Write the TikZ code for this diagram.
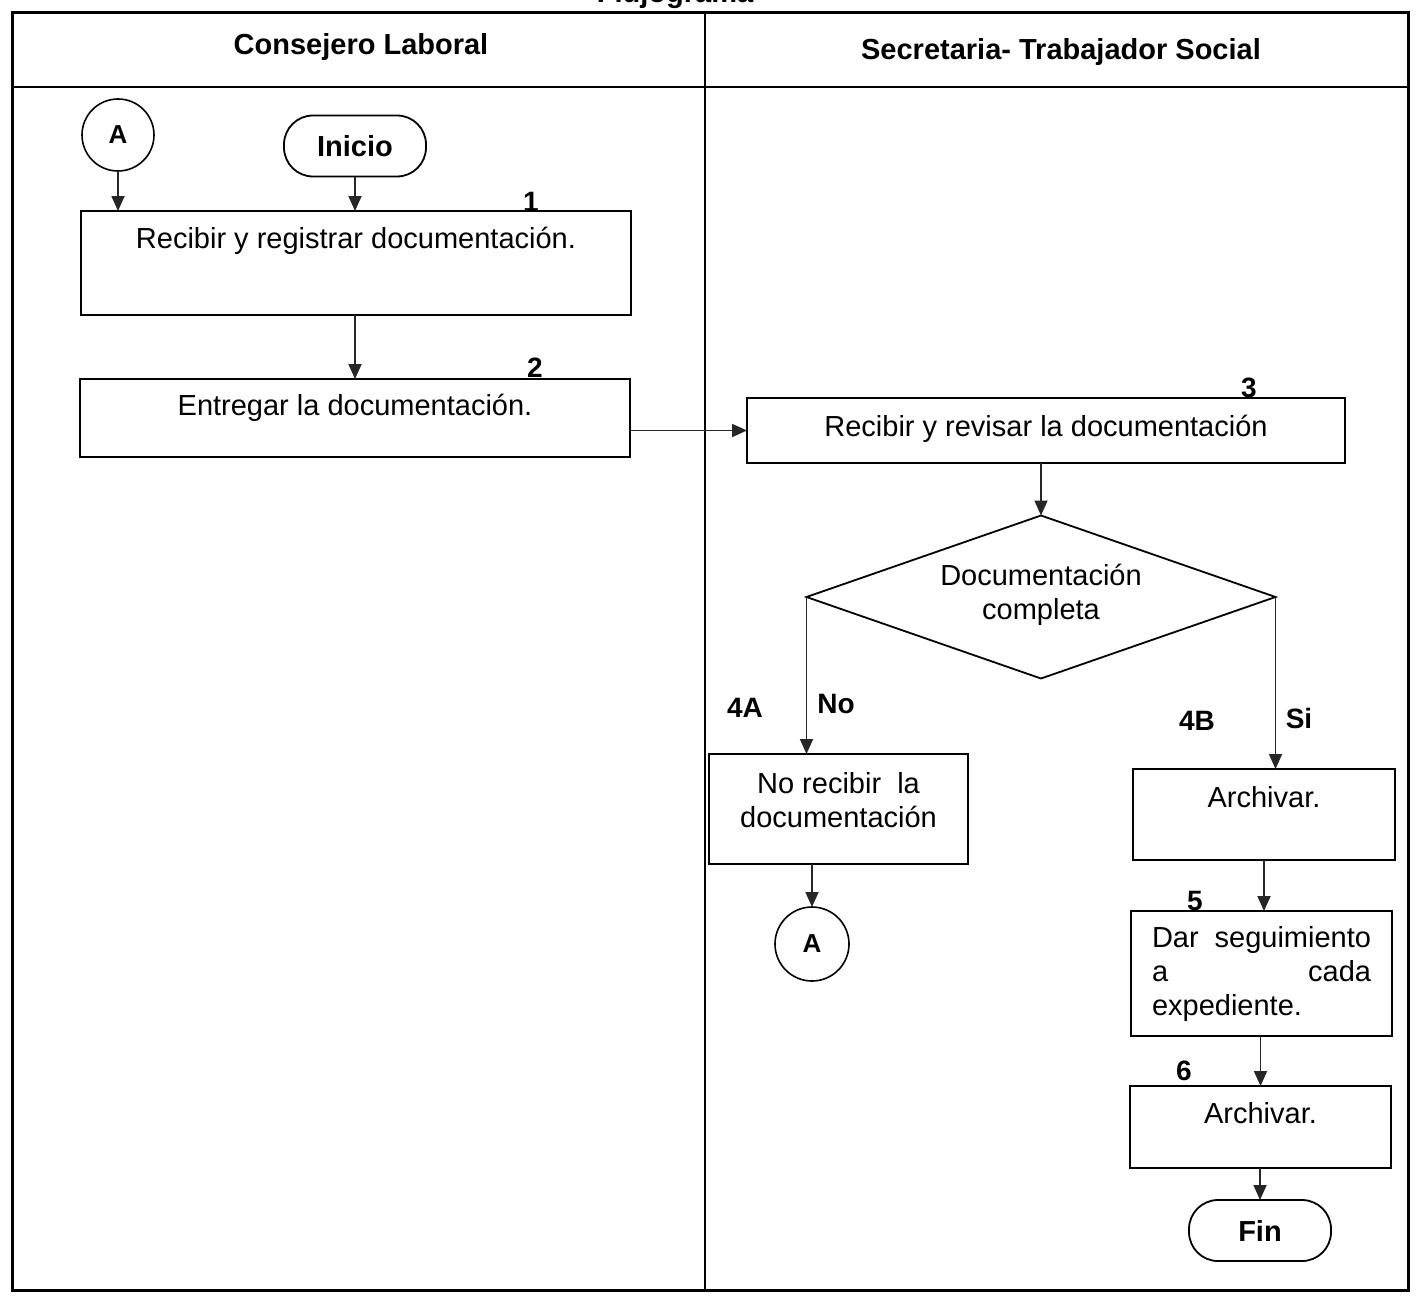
\documentclass[tikz,border=0pt]{standalone}
\usepackage{fontspec}
\setmainfont{Liberation Sans}
\usetikzlibrary{arrows.meta,shapes.geometric}
\begin{document}
\begin{tikzpicture}[x=1pt,y=-1pt,
  every node/.style={inner sep=0pt, outer sep=0pt},
  proc/.style={draw, line width=1.8pt, rectangle},
  txt/.style={align=center, font=\fontsize{29}{34}\selectfont},
  term/.style={draw, line width=1.8pt, rounded corners=29pt, minimum width=142pt,
               minimum height=61pt, font=\fontsize{29}{34}\selectfont\bfseries},
  conn/.style={draw, circle, line width=1.6pt, minimum size=72pt,
               font=\fontsize{26}{30}\selectfont\bfseries},
  dec/.style={draw, diamond, line width=1.8pt, minimum width=469pt, minimum height=163pt},
  flow/.style={line width=1.8pt, draw=black!85, -{Triangle[length=15pt,width=13pt]}},
  stepnum/.style={font=\fontsize{28}{32}\selectfont\bfseries},
  lanehead/.style={font=\fontsize{29}{34}\selectfont\bfseries}
]
\useasboundingbox (0,0) rectangle (1418,1295);

% title (runs off the top of the page)
\node[lanehead, anchor=base] (title) at (675,3) {Flujograma};

% swimlane frame
\draw[line width=3pt] (12,13) rectangle (1408,1290);
\draw[line width=2.4pt] (705,13) -- (705,1290);
\draw[line width=2pt] (12,87) -- (1408,87);
\node[lanehead] (laneL) at (361,47) {Consejero Laboral};
\node[lanehead] (laneR) at (1061,52) {Secretaria- Trabajador Social};

% left lane
\node[conn] (cA1) at (118,135) {A};
\node[term] (ini) at (355,146) {Inicio};
\node[proc, minimum width=550pt, minimum height=104pt,
      label={[txt,yshift=22pt]center:{Recibir y registrar documentación.}}] (b1) at (356,263) {};
\node[proc, minimum width=550pt, minimum height=78pt,
      label={[txt,yshift=10pt]center:{Entregar la documentación.}}] (b2) at (355,418) {};

% right lane
\node[proc, minimum width=598pt, minimum height=65pt,
      label={[txt,yshift=2pt]center:{Recibir y revisar la documentación}}] (b3) at (1046,430.5) {};
\node[dec, label={[txt,yshift=2pt]center:{Documentación\\completa}}] (d) at (1041,597) {};
\node[proc, minimum width=259pt, minimum height=110pt,
      label={[txt,yshift=9pt]center:{No recibir\ \ la\\documentación}}] (b4a) at (838.5,809) {};
\node[conn, minimum size=74pt] (cA2) at (812,944) {A};
\node[proc, minimum width=262pt, minimum height=91pt,
      label={[txt,yshift=17pt]center:{Archivar.}}] (b4b) at (1264,814.5) {};
\node[proc, minimum width=261pt, minimum height=125pt,
      label={[txt,align=left]center:{\hbox to 219pt{Dar\hfill seguimiento}\\
        \hbox to 219pt{a\hfill cada}\\expediente.}}] (b5) at (1261.5,973.5) {};
\node[proc, minimum width=261pt, minimum height=82pt,
      label={[txt,yshift=14pt]center:{Archivar.}}] (b6) at (1260.5,1127) {};
\node[term] (fin) at (1260,1230.5) {Fin};

% step numbers and branch labels
\node[stepnum] (n1) at (531,202) {1};
\node[stepnum] (n2) at (535,368) {2};
\node[stepnum] (n3) at (1249,388) {3};
\node[stepnum] (n4a) at (745,708) {4A};
\node[stepnum] (lno) at (836,704) {No};
\node[stepnum] (n4b) at (1197,721) {4B};
\node[stepnum] (lsi) at (1299,718) {Si};
\node[stepnum] (n5) at (1195,901) {5};
\node[stepnum] (n6) at (1184,1071) {6};

% connectors
\draw[flow] (cA1.south) -- (cA1.south |- b1.north);
\draw[flow] (ini.south) -- (ini.south |- b1.north);
\draw[flow] (b1.south -| b2.north) -- (b2.north);
\draw[flow] (b2.east |- b3.west) -- (b3.west);
\draw[flow] (d.north |- b3.south) -- (d.north);
\draw[flow] (d.west) -- (d.west |- b4a.north);
\draw[flow] (d.east) -- (d.east |- b4b.north);
\draw[flow] (cA2.north |- b4a.south) -- (cA2.north);
\draw[flow] (b4b.south) -- (b4b.south |- b5.north);
\draw[flow] (b5.south -| b6.north) -- (b6.north);
\draw[flow] (b6.south -| fin.north) -- (fin.north);
\end{tikzpicture}
\end{document}
